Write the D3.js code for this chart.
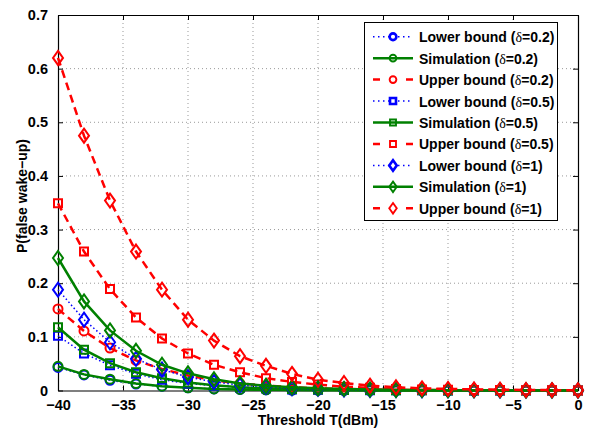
<!DOCTYPE html>
<html>
<head>
<meta charset="utf-8">
<script src="https://cdn.jsdelivr.net/npm/d3@7/dist/d3.min.js"></script>
<style>
  body { margin: 0; background: #fff; }
  text { font-family: "Liberation Sans", Arial, sans-serif; font-weight: bold; }
</style>
</head>
<body>
<svg id="chart" width="590" height="431"></svg>
<script>
// thresholds (dBm)
const thresholds = [-40, -38, -36, -34, -32, -30, -28, -26, -24, -22, -20,
                    -18, -16, -14, -12, -10, -8, -6, -4, -2, 0];

const lower02 = [0.043, 0.029, 0.019, 0.012, 0.008, 0.005, 0.003, 0.002, 0.0012, 0.0008, 0.0005,
                 0.0003, 0.0002, 0.0001, 0.0001, 0, 0, 0, 0, 0, 0];
const sim02   = [0.045, 0.030, 0.021, 0.013, 0.008, 0.005, 0.003, 0.002, 0.0013, 0.0008, 0.0005,
                 0.0003, 0.0002, 0.0001, 0.0001, 0, 0, 0, 0, 0, 0];
const upper02 = [0.152, 0.111, 0.079, 0.056, 0.040, 0.028, 0.019, 0.013, 0.009, 0.006, 0.004,
                 0.003, 0.002, 0.0013, 0.0009, 0.0006, 0.0004, 0.0003, 0.0002, 0.0001, 0.0001];
const lower05 = [0.102, 0.069, 0.047, 0.031, 0.020, 0.013, 0.009, 0.006, 0.004, 0.002, 0.0015,
                 0.001, 0.0006, 0.0004, 0.0003, 0.0002, 0.0001, 0.0001, 0, 0, 0];
const sim05   = [0.118, 0.076, 0.051, 0.034, 0.023, 0.015, 0.010, 0.006, 0.004, 0.003, 0.002,
                 0.001, 0.0008, 0.0005, 0.0003, 0.0002, 0.0001, 0.0001, 0.0001, 0, 0];
const upper05 = [0.349, 0.259, 0.189, 0.136, 0.097, 0.069, 0.048, 0.034, 0.023, 0.016, 0.011,
                 0.007, 0.005, 0.003, 0.002, 0.0015, 0.001, 0.0007, 0.0005, 0.0003, 0.0002];
const lower1  = [0.188, 0.132, 0.090, 0.059, 0.039, 0.025, 0.016, 0.010, 0.007, 0.004, 0.003,
                 0.002, 0.001, 0.0008, 0.0005, 0.0003, 0.0002, 0.0001, 0.0001, 0.0001, 0];
const sim1    = [0.247, 0.166, 0.112, 0.074, 0.048, 0.032, 0.021, 0.013, 0.009, 0.006, 0.004,
                 0.003, 0.002, 0.001, 0.0008, 0.0005, 0.0003, 0.0002, 0.0001, 0.0001, 0.0001];
const upper1  = [0.620, 0.475, 0.354, 0.259, 0.188, 0.132, 0.093, 0.064, 0.046, 0.031, 0.020,
                 0.014, 0.009, 0.006, 0.004, 0.003, 0.002, 0.0015, 0.001, 0.0007, 0.0005];

const xTicks = [-40, -35, -30, -25, -20, -15, -10, -5, 0];
const yTicks = [0, 0.1, 0.2, 0.3, 0.4, 0.5, 0.6, 0.7];

const series = [
    { name: "Lower bound", delta: "0.2", values: lower02, kind: "lower", marker: "circle" },
    { name: "Simulation",  delta: "0.2", values: sim02,   kind: "sim",   marker: "circle" },
    { name: "Upper bound", delta: "0.2", values: upper02, kind: "upper", marker: "circle" },
    { name: "Lower bound", delta: "0.5", values: lower05, kind: "lower", marker: "square" },
    { name: "Simulation",  delta: "0.5", values: sim05,   kind: "sim",   marker: "square" },
    { name: "Upper bound", delta: "0.5", values: upper05, kind: "upper", marker: "square" },
    { name: "Lower bound", delta: "1",   values: lower1,  kind: "lower", marker: "diamond" },
    { name: "Simulation",  delta: "1",   values: sim1,    kind: "sim",   marker: "diamond" },
    { name: "Upper bound", delta: "1",   values: upper1,  kind: "upper", marker: "diamond" }
];

const styles = {
    lower: { color: "#0000ff", width: 1.5, dash: "1.5 2.5" },
    sim:   { color: "#008000", width: 2.5, dash: null },
    upper: { color: "#ff0000", width: 2.5, dash: "8 5" }
};

const svg = d3.select("#chart");
const plotLeft = 58, plotRight = 578, plotTop = 15, plotBottom = 390.5;

const x = d3.scaleLinear().domain([-40, 0]).range([plotLeft, plotRight]);
const y = d3.scaleLinear().domain([0, 0.7]).range([plotBottom, plotTop]);

// grid
const grid = svg.append("g")
    .attr("stroke", "#999")
    .attr("stroke-width", 1)
    .attr("stroke-dasharray", "1 3");

grid.selectAll("line.gx")
    .data(xTicks.slice(1, -1))
    .enter()
    .append("line")
    .attr("x1", d => x(d)).attr("x2", d => x(d))
    .attr("y1", plotTop).attr("y2", plotBottom);

grid.selectAll("line.gy")
    .data(yTicks.slice(1, -1))
    .enter()
    .append("line")
    .attr("x1", plotLeft).attr("x2", plotRight)
    .attr("y1", d => y(d)).attr("y2", d => y(d));

// axes, ticks pointing inward on all four sides
const fmtX = d => d < 0 ? "\u2212" + Math.abs(d) : String(d);

svg.append("g")
    .attr("transform", `translate(0,${plotBottom})`)
    .call(d3.axisBottom(x).tickValues(xTicks).tickSizeInner(-5).tickSizeOuter(0).tickPadding(9).tickFormat(fmtX));
svg.append("g")
    .attr("transform", `translate(0,${plotTop})`)
    .call(d3.axisTop(x).tickValues(xTicks).tickSizeInner(-5).tickSizeOuter(0).tickFormat(""));
svg.append("g")
    .attr("transform", `translate(${plotLeft},0)`)
    .call(d3.axisLeft(y).tickValues(yTicks).tickSizeInner(-5).tickSizeOuter(0).tickPadding(10)
        .tickFormat(d => d === 0 ? "0" : d3.format(".1f")(d)));
svg.append("g")
    .attr("transform", `translate(${plotRight},0)`)
    .call(d3.axisRight(y).tickValues(yTicks).tickSizeInner(-5).tickSizeOuter(0).tickFormat(""));

svg.selectAll(".domain").attr("stroke", "#000").attr("stroke-width", 1.2);
svg.selectAll(".tick line").attr("stroke", "#000");
svg.selectAll(".tick text")
    .attr("font-size", 14.5)
    .attr("font-weight", "bold")
    .attr("font-family", "Liberation Sans, Arial, sans-serif")
    .attr("fill", "#000");

// axis labels
svg.append("text")
    .attr("x", 318)
    .attr("y", 425)
    .attr("text-anchor", "middle")
    .attr("font-size", 14)
    .text("Threshold T(dBm)");

svg.append("text")
    .attr("transform", "translate(27,196) rotate(-90)")
    .attr("text-anchor", "middle")
    .attr("font-size", 14)
    .text("P(false wake\u2212up)");

// marker drawing
const markerPath = (type) => {
    if (type === "circle") {
        return d3.symbol().type(d3.symbolCircle).size(Math.PI * 4.5 * 4.5)();
    }
    if (type === "square") {
        return "M-4,-4H4V4H-4Z";
    }
    return "M0,-7L5,0L0,7L-5,0Z";
};

const line = d3.line()
    .x((d, i) => x(thresholds[i]))
    .y(d => y(d));

const plot = svg.append("g");

series.forEach(s => {
    const st = styles[s.kind];
    const g = plot.append("g");

    g.append("path")
        .datum(s.values)
        .attr("d", line)
        .attr("fill", "none")
        .attr("stroke", st.color)
        .attr("stroke-width", st.width)
        .attr("stroke-dasharray", st.dash);

    g.selectAll("path.mk")
        .data(s.values)
        .enter()
        .append("path")
        .attr("class", "mk")
        .attr("d", markerPath(s.marker))
        .attr("transform", (d, i) => `translate(${x(thresholds[i])},${y(d)})`)
        .attr("fill", "none")
        .attr("stroke", st.color)
        .attr("stroke-width", 2);
});

// legend
const legend = svg.append("g");
legend.append("rect")
    .attr("x", 364.5)
    .attr("y", 22.5)
    .attr("width", 193)
    .attr("height", 198)
    .attr("fill", "#fff")
    .attr("stroke", "#000")
    .attr("stroke-width", 1);

const items = legend.selectAll("g.item")
    .data(series)
    .enter()
    .append("g")
    .attr("transform", (d, i) => `translate(0,${36.7 + i * 21.45})`);

items.append("line")
    .attr("x1", 373).attr("x2", 413)
    .attr("y1", 0).attr("y2", 0)
    .attr("stroke", d => styles[d.kind].color)
    .attr("stroke-width", d => styles[d.kind].width)
    .attr("stroke-dasharray", d => d.kind === "upper" ? "7 26" : (d.kind === "lower" ? "1.5 3.5" : null));

items.append("path")
    .attr("d", d => markerPath(d.marker))
    .attr("transform", "translate(393,0) scale(0.75)")
    .attr("fill", d => d.kind === "lower" ? "#fff" : "none")
    .attr("stroke", d => styles[d.kind].color)
    .attr("stroke-width", d => d.kind === "lower" ? 3.5 : 2.5);

const labels = items.append("text")
    .attr("x", 419)
    .attr("y", 5.5)
    .attr("font-size", 14);

labels.append("tspan").text(d => d.name + " (");
labels.append("tspan")
    .attr("font-family", "Liberation Serif, serif")
    .attr("font-weight", "normal")
    .text("\u03b4");
labels.append("tspan").text(d => "=" + d.delta + ")");
</script>
</body>
</html>
